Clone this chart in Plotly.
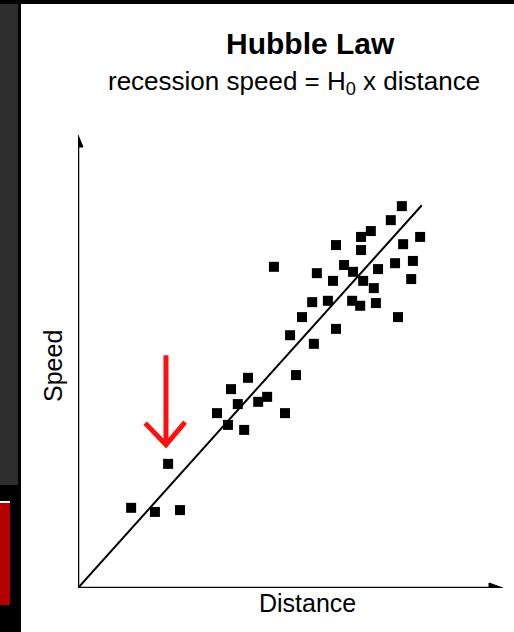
import plotly.graph_objects as go

# ---- data (arbitrary units, origin at axes corner) ----
distance = [76.2, 73.6, 68.9, 66.6, 66.6, 80.5, 60.7, 76.5, 46.1, 62.6,
            74.6, 78.8, 56.2, 60.0, 64.7, 70.6, 78.4, 67.1, 69.6, 70.1,
            64.5, 66.4, 75.3, 55.1, 58.8, 52.7, 60.7, 49.9, 55.5, 51.3,
            40.0, 36.0, 37.6, 42.4, 44.5, 32.7, 48.7, 35.3, 39.1, 21.2,
            12.5, 18.1, 24.0]
speed = [84.3, 81.2, 78.8, 77.5, 74.6, 77.5, 75.7, 75.9, 70.9, 71.3,
         71.7, 72.2, 69.5, 67.8, 69.8, 70.4, 68.2, 67.8, 66.2, 62.9,
         63.4, 62.3, 59.8, 63.1, 63.4, 59.8, 57.2, 55.8, 53.9, 47.0,
         46.4, 43.9, 40.6, 41.1, 42.2, 38.6, 38.6, 36.0, 34.9, 27.4,
         17.7, 16.8, 17.2]
fit_distance = [0, 80.9]
fit_speed = [0, 84.5]

title_text = "Hubble Law"
subtitle_text = "recession speed = H<sub>0</sub> x distance"
x_label = "Distance"
y_label = "Speed"

W, H = 514, 632
L, R, T, B = 78, 11, 135, 44
PW, PH = W - L - R, H - T - B
X_MAX, Y_MAX = 100, 100


def px(x):
    return (x - L) / PW


def py(y):
    return (H - B - y) / PH


ux = X_MAX / PW  # data units per pixel (x)
uy = Y_MAX / PH  # data units per pixel (y)

FONT = "Liberation Sans, Arial, sans-serif"

fig = go.Figure()
fig.add_trace(go.Scatter(x=fit_distance, y=fit_speed, mode="lines",
                         line=dict(color="black", width=2),
                         hoverinfo="skip", showlegend=False))
fig.add_trace(go.Scatter(x=distance, y=speed, mode="markers",
                         marker=dict(symbol="square", size=10, color="black"),
                         showlegend=False))

shapes = [
    # page decorations
    dict(type="rect", xref="paper", yref="paper", x0=px(0), x1=px(18), y0=py(4), y1=py(485),
         fillcolor="#2e2e2e", line_width=0, layer="below"),
    dict(type="rect", xref="paper", yref="paper", x0=px(0), x1=px(18), y0=py(485), y1=py(632),
         fillcolor="#000000", line_width=0, layer="below"),
    dict(type="rect", xref="paper", yref="paper", x0=px(0), x1=px(10), y0=py(501), y1=py(503),
         fillcolor="#ffffff", line_width=0, layer="below"),
    dict(type="rect", xref="paper", yref="paper", x0=px(0), x1=px(10), y0=py(503), y1=py(605),
         fillcolor="#b30000", line_width=0, layer="below"),
    dict(type="rect", xref="paper", yref="paper", x0=px(18), x1=px(21), y0=py(0), y1=py(632),
         fillcolor="#000000", line_width=0, layer="below"),
    dict(type="rect", xref="paper", yref="paper", x0=px(0), x1=px(514), y0=py(0), y1=py(4),
         fillcolor="#000000", line_width=0, layer="below"),
    # axes
    dict(type="line", xref="x", yref="y", x0=0, y0=0, x1=0, y1=Y_MAX - 8 * uy,
         line=dict(color="black", width=2.5)),
    dict(type="line", xref="x", yref="y", x0=0, y0=0, x1=X_MAX - 8 * ux, y1=0,
         line=dict(color="black", width=2.5)),
    dict(type="path", xref="x", yref="y", fillcolor="black", line=dict(color="black", width=1),
         path=f"M {-5 * ux} {Y_MAX - 12 * uy} L 0 {Y_MAX} L {5 * ux} {Y_MAX - 12 * uy} Z"),
    dict(type="path", xref="x", yref="y", fillcolor="black", line=dict(color="black", width=1),
         path=f"M {X_MAX - 14 * ux} {5 * uy} L {X_MAX} 0 L {X_MAX - 14 * ux} {-5 * uy} Z"),
]

# red arrow pointing at the nearby galaxy (highlighted point)
hx, hy = distance[39], speed[39]
ax_x = hx - 0.5
tip_y = hy + 4.2
shapes.append(dict(type="path", xref="x", yref="y",
                   path=f"M {ax_x} {tip_y + 19.8} L {ax_x} {tip_y} "
                        f"M {ax_x - 4.9} {tip_y + 4.8} L {ax_x} {tip_y} L {ax_x + 4.5} {tip_y + 5.0}",
                   line=dict(color="#ff1010", width=5)))

annotations = [
    dict(text=f"<b>{title_text}</b>", xref="paper", yref="paper", x=px(310), y=py(43),
         xanchor="center", yanchor="middle", showarrow=False,
         font=dict(family=FONT, size=30, color="black")),
    dict(text=subtitle_text, xref="paper", yref="paper", x=px(294), y=py(82),
         xanchor="center", yanchor="middle", showarrow=False,
         font=dict(family=FONT, size=26, color="black")),
    dict(text=x_label, xref="paper", yref="paper", x=px(307), y=py(603),
         xanchor="center", yanchor="middle", showarrow=False,
         font=dict(family=FONT, size=25, color="black")),
    dict(text=y_label, xref="paper", yref="paper", x=px(53), y=py(366),
         xanchor="center", yanchor="middle", showarrow=False, textangle=-90,
         font=dict(family=FONT, size=25, color="black")),
]

fig.update_layout(
    width=W, height=H,
    margin=dict(l=L, r=R, t=T, b=B, pad=0),
    paper_bgcolor="white", plot_bgcolor="white",
    xaxis=dict(range=[0, X_MAX], visible=False, fixedrange=True),
    yaxis=dict(range=[0, Y_MAX], visible=False, fixedrange=True),
    shapes=shapes, annotations=annotations,
    showlegend=False,
)

fig.write_html("out.html", config={"displayModeBar": False},
               post_script="document.body.style.margin='0';document.body.style.overflow='hidden';")
